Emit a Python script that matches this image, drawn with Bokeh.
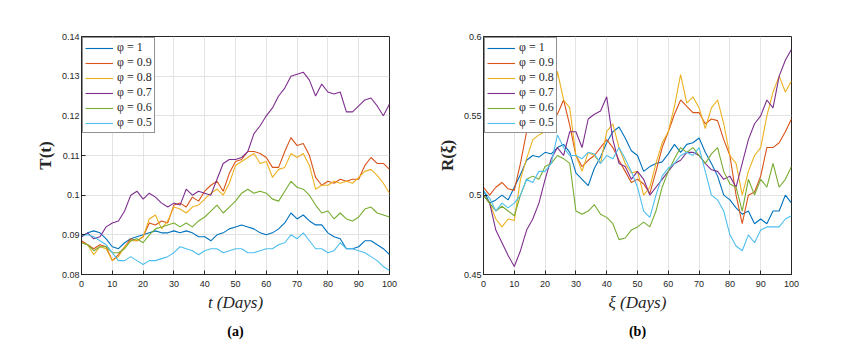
from bokeh.plotting import figure
from bokeh.models import FixedTicker, Legend, LegendItem, Title
from bokeh.layouts import row
from bokeh.embed import file_html
from bokeh.resources import INLINE

days = list(range(0, 101, 2))
phi_labels = ["φ = 1", "φ = 0.9", "φ = 0.8", "φ = 0.7", "φ = 0.6", "φ = 0.5"]
colors = ["#0072BD", "#D95319", "#EDB120", "#7E2F8E", "#77AC30", "#4DBEEE"]

# ---- panel (a): T(t) ----
T_phi_1 = [0.0895, 0.0905, 0.091, 0.0905, 0.089, 0.087, 0.0865, 0.088, 0.089, 0.0895, 0.09,
           0.0905, 0.091, 0.0905, 0.0905, 0.091, 0.0905, 0.091, 0.0905, 0.0895, 0.0895,
           0.0885, 0.09, 0.0905, 0.0915, 0.092, 0.0925, 0.092, 0.0915, 0.0905, 0.09,
           0.0905, 0.0915, 0.093, 0.0955, 0.094, 0.095, 0.0935, 0.0925, 0.0925, 0.0905,
           0.0895, 0.089, 0.0865, 0.0865, 0.087, 0.0885, 0.0885, 0.0875, 0.0865, 0.085]
T_phi_09 = [0.0885, 0.0875, 0.0865, 0.0875, 0.087, 0.0835, 0.085, 0.087, 0.089, 0.0885, 0.0895,
            0.093, 0.0925, 0.0935, 0.093, 0.0975, 0.098, 0.097, 0.0995, 0.0985, 0.101,
            0.1025, 0.1035, 0.101, 0.1055, 0.1085, 0.109, 0.111, 0.111, 0.1105, 0.1095,
            0.107, 0.107, 0.111, 0.1145, 0.1125, 0.113, 0.11, 0.1045, 0.1025, 0.1035,
            0.103, 0.104, 0.1035, 0.104, 0.104, 0.1075, 0.1095, 0.108, 0.108, 0.1065]
T_phi_08 = [0.088, 0.0875, 0.085, 0.087, 0.0865, 0.0835, 0.0845, 0.087, 0.0885, 0.0885, 0.0895,
            0.094, 0.095, 0.0915, 0.0935, 0.097, 0.0965, 0.0955, 0.097, 0.0975, 0.099,
            0.1005, 0.1015, 0.1, 0.103, 0.1075, 0.1085, 0.1095, 0.1105, 0.108, 0.1085,
            0.1045, 0.1065, 0.107, 0.1105, 0.1095, 0.1105, 0.1075, 0.1015, 0.1025, 0.1025,
            0.1035, 0.103, 0.1035, 0.103, 0.1045, 0.106, 0.1065, 0.105, 0.103, 0.1005]
T_phi_07 = [0.0895, 0.0905, 0.089, 0.0895, 0.092, 0.093, 0.0935, 0.096, 0.1, 0.101, 0.099,
            0.1005, 0.0995, 0.098, 0.097, 0.098, 0.0975, 0.1015, 0.1, 0.101, 0.1005,
            0.1, 0.104, 0.108, 0.109, 0.109, 0.1095, 0.111, 0.1155, 0.1175, 0.12,
            0.122, 0.125, 0.127, 0.13, 0.1305, 0.131, 0.129, 0.125, 0.128, 0.126,
            0.1255, 0.126, 0.121, 0.121, 0.1225, 0.124, 0.1245, 0.1225, 0.12, 0.123]
T_phi_06 = [0.088, 0.0875, 0.086, 0.087, 0.087, 0.0855, 0.0855, 0.0865, 0.0885, 0.089, 0.088,
            0.09, 0.0915, 0.092, 0.0925, 0.093, 0.092, 0.093, 0.092, 0.0935, 0.0945,
            0.096, 0.0975, 0.0955, 0.097, 0.0985, 0.1005, 0.1015, 0.1005, 0.101, 0.1005,
            0.099, 0.0985, 0.101, 0.1035, 0.102, 0.1015, 0.1, 0.0975, 0.0955, 0.096,
            0.094, 0.0955, 0.094, 0.0935, 0.0945, 0.0965, 0.097, 0.0955, 0.095, 0.0945]
T_phi_05 = [0.09, 0.09, 0.0895, 0.0885, 0.0875, 0.0855, 0.0835, 0.0835, 0.0845, 0.0835, 0.0825,
            0.0835, 0.0835, 0.084, 0.0845, 0.0855, 0.087, 0.0865, 0.086, 0.085, 0.086,
            0.0865, 0.0865, 0.0855, 0.086, 0.0865, 0.0865, 0.0855, 0.0855, 0.086, 0.0865,
            0.0865, 0.0875, 0.088, 0.09, 0.089, 0.0905, 0.0885, 0.0865, 0.0865, 0.0855,
            0.086, 0.088, 0.0865, 0.0865, 0.086, 0.0855, 0.0845, 0.0835, 0.082, 0.081]

# ---- panel (b): R(xi) ----
R_phi_1 = [0.503, 0.495, 0.497, 0.5, 0.497, 0.505, 0.513, 0.522, 0.525, 0.524, 0.527,
           0.526, 0.53, 0.532, 0.527, 0.514, 0.51, 0.506, 0.517, 0.524, 0.533,
           0.54, 0.543, 0.536, 0.528, 0.525, 0.515, 0.518, 0.52, 0.521, 0.526,
           0.532, 0.527, 0.532, 0.533, 0.536, 0.527, 0.52, 0.512, 0.5, 0.497,
           0.492, 0.488, 0.49, 0.482, 0.485, 0.482, 0.49, 0.49, 0.5, 0.495]
R_phi_09 = [0.505, 0.5, 0.505, 0.508, 0.504, 0.503, 0.52, 0.54, 0.546, 0.544, 0.548,
            0.55, 0.551, 0.56, 0.544, 0.525, 0.518, 0.522, 0.525, 0.53, 0.535,
            0.53, 0.522, 0.515, 0.508, 0.51, 0.507, 0.501, 0.515, 0.53, 0.54,
            0.551, 0.56, 0.556, 0.552, 0.552, 0.545, 0.548, 0.547, 0.535, 0.525,
            0.5, 0.482, 0.5, 0.502, 0.512, 0.53, 0.53, 0.533, 0.54, 0.548]
R_phi_08 = [0.5, 0.495, 0.485, 0.48, 0.485, 0.484, 0.51, 0.523, 0.535, 0.538, 0.54,
            0.543, 0.578, 0.56, 0.555, 0.525, 0.515, 0.527, 0.525, 0.52, 0.54,
            0.545, 0.53, 0.52, 0.514, 0.515, 0.5, 0.505, 0.52, 0.533, 0.54,
            0.556, 0.576, 0.558, 0.562, 0.555, 0.542, 0.555, 0.56, 0.545, 0.525,
            0.52, 0.5, 0.515, 0.525, 0.53, 0.55, 0.565, 0.575, 0.565, 0.572]
R_phi_07 = [0.5, 0.495, 0.478, 0.47, 0.462, 0.455, 0.465, 0.478, 0.485, 0.495, 0.51,
            0.523, 0.53, 0.525, 0.54, 0.54, 0.53, 0.548, 0.551, 0.553, 0.562,
            0.535, 0.52, 0.518, 0.51, 0.515, 0.51, 0.5, 0.505, 0.51, 0.515,
            0.52, 0.522, 0.527, 0.527, 0.525, 0.52, 0.516, 0.515, 0.51, 0.512,
            0.505, 0.52, 0.535, 0.545, 0.55, 0.56, 0.555, 0.575, 0.585, 0.592]
R_phi_06 = [0.5, 0.495, 0.49, 0.493, 0.49, 0.487, 0.5, 0.51, 0.512, 0.51, 0.518,
            0.52, 0.525, 0.523, 0.52, 0.49, 0.488, 0.49, 0.494, 0.488, 0.486,
            0.482, 0.472, 0.473, 0.478, 0.48, 0.483, 0.48, 0.49, 0.505, 0.515,
            0.523, 0.53, 0.527, 0.53, 0.525, 0.52, 0.526, 0.53, 0.515, 0.507,
            0.505, 0.49, 0.51, 0.5, 0.51, 0.505, 0.52, 0.505, 0.51, 0.518]
R_phi_05 = [0.503, 0.498, 0.49, 0.495, 0.492, 0.495, 0.5, 0.51, 0.508, 0.515, 0.515,
            0.52, 0.538, 0.53, 0.525, 0.525, 0.523, 0.527, 0.526, 0.52, 0.525,
            0.523, 0.53, 0.523, 0.515, 0.505, 0.49, 0.486, 0.5, 0.512, 0.517,
            0.52, 0.525, 0.527, 0.525, 0.53, 0.515, 0.5, 0.497, 0.49, 0.475,
            0.468, 0.465, 0.475, 0.47, 0.478, 0.48, 0.48, 0.48, 0.485, 0.487]

x_ticks = [0, 10, 20, 30, 40, 50, 60, 70, 80, 90, 100]
T_ticks = [0.08, 0.09, 0.1, 0.11, 0.12, 0.13, 0.14]
T_tick_labels = ["0.08", "0.09", "0.1", "0.11", "0.12", "0.13", "0.14"]
R_ticks = [0.45, 0.5, 0.55, 0.6]
R_tick_labels = ["0.45", "0.5", "0.55", "0.6"]

T_series = [T_phi_1, T_phi_09, T_phi_08, T_phi_07, T_phi_06, T_phi_05]
R_series = [R_phi_1, R_phi_09, R_phi_08, R_phi_07, R_phi_06, R_phi_05]

SERIF = "Liberation Serif"
SANS = "Liberation Sans"


def make_panel(series, yticks, ylabels, yrange, ylab, xlab, caption, bl, br, cap_off):
    p = figure(width=bl + 308 + br, height=338, frame_width=308, frame_height=238,
               x_range=(0, 100), y_range=yrange, output_backend="svg",
               toolbar_location=None, min_border_left=bl, min_border_right=br,
               min_border_top=36, min_border_bottom=64)
    p.background_fill_color = "white"
    p.border_fill_color = "white"
    p.outline_line_color = "#262626"
    p.outline_line_width = 1
    items = []
    for s, c, lab in zip(series, colors, phi_labels):
        r = p.line(days, s, line_color=c, line_width=1.1)
        items.append(LegendItem(label=lab, renderers=[r]))
    for ax in (p.xaxis[0], p.yaxis[0]):
        ax.major_tick_in = 4
        ax.major_tick_out = 0
        ax.minor_tick_in = 0
        ax.minor_tick_out = 0
        ax.axis_line_color = "#262626"
        ax.major_tick_line_color = "#262626"
        ax.major_label_text_font = SANS
        ax.major_label_text_font_size = "9px"
        ax.major_label_text_color = "#262626"
    p.xaxis.ticker = FixedTicker(ticks=x_ticks)
    p.yaxis.ticker = FixedTicker(ticks=yticks)
    p.yaxis.major_label_overrides = {t: l for t, l in zip(yticks, ylabels)}
    p.xaxis.major_label_standoff = 6
    p.yaxis.major_label_standoff = 2
    p.yaxis.axis_label = ylab
    p.yaxis.axis_label_text_font = SERIF
    p.yaxis.axis_label_text_font_style = "bold"
    p.yaxis.axis_label_text_font_size = "17px"
    p.yaxis.axis_label_text_color = "#262626"
    p.yaxis.axis_label_standoff = 4
    p.xaxis.axis_label = xlab
    p.xaxis.axis_label_text_font = SERIF
    p.xaxis.axis_label_text_font_style = "italic"
    p.xaxis.axis_label_text_font_size = "17px"
    p.xaxis.axis_label_text_color = "#262626"
    p.xaxis.axis_label_standoff = 3
    p.grid.grid_line_color = "#e3e3e3"
    p.grid.grid_line_width = 1

    cap = Title(text=caption, align="center", offset=cap_off, text_font=SERIF,
                text_font_style="bold", text_font_size="14px", text_color="black",
                standoff=14)
    p.add_layout(cap, "below")

    leg = Legend(items=items, location="top_left")
    leg.label_text_font = SERIF
    leg.label_text_font_size = "12px"
    leg.label_text_color = "#262626"
    leg.glyph_width = 28
    leg.glyph_height = 14
    leg.label_height = 14
    leg.spacing = 0
    leg.padding = 2
    leg.margin = 1
    leg.label_standoff = 4
    leg.border_line_color = "#262626"
    leg.border_line_width = 1
    leg.background_fill_alpha = 1
    p.add_layout(leg)
    return p


pa = make_panel(T_series, T_ticks, T_tick_labels, (0.08, 0.14), "T(t)", "t (Days)", "(a)",
                81, 37, -7)
pb = make_panel(R_series, R_ticks, R_tick_labels, (0.45, 0.6), "R(ξ)", "ξ (Days)", "(b)",
                57, 53, -6)

layout = row(pa, pb, spacing=0)
open("out.html", "w").write(file_html(layout, INLINE))
